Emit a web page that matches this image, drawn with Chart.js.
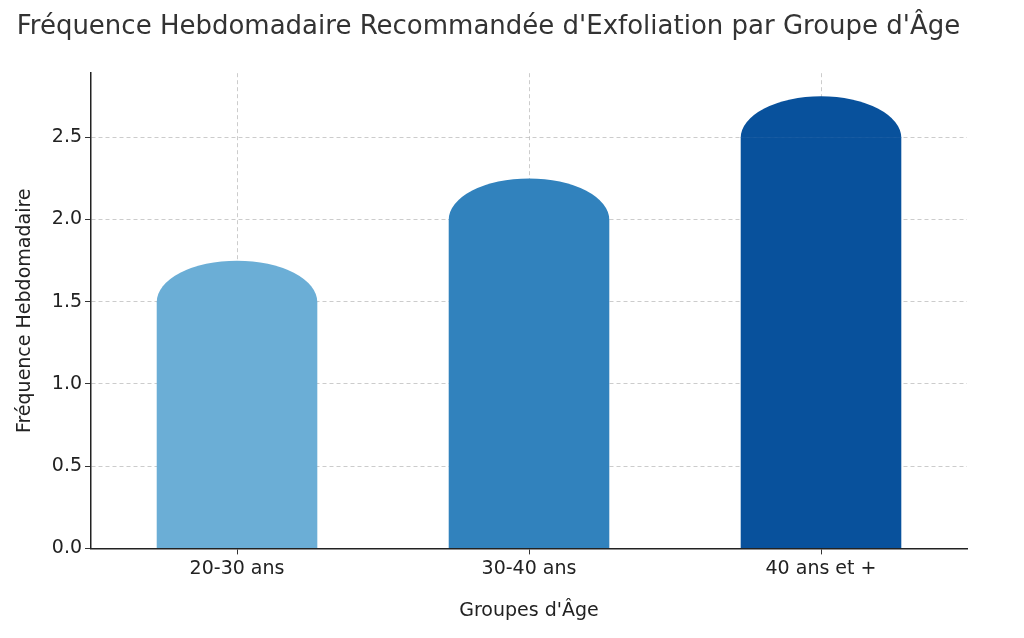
<!DOCTYPE html>
<html><head><meta charset="utf-8">
<script src="https://cdn.jsdelivr.net/npm/chart.js@4"></script>
<style>html,body{margin:0;background:#fff}#w{width:1024px;height:638px}</style>
</head><body><div id="w"><canvas id="c"></canvas></div>
<script>
const categories = ["20-30 ans", "30-40 ans", "40 ans et +"];
const frequencies = [1.5, 2.0, 2.5];
const capHeights = [0.25, 0.25, 0.25];
const colors = ["#6baed6", "#3182bd", "#08519c"];

const capPlugin = {
  id: 'caps',
  afterDatasetsDraw(chart) {
    const meta = chart.getDatasetMeta(0), y = chart.scales.y, ctx = chart.ctx;
    meta.data.forEach((bar, i) => {
      const top = bar.y, rx = bar.width / 2;
      const ry = top - y.getPixelForValue(frequencies[i] + capHeights[i]);
      ctx.save();
      ctx.fillStyle = colors[i];
      ctx.beginPath();
      ctx.ellipse(bar.x, top + 0.5, rx, ry + 0.5, 0, Math.PI, 2 * Math.PI);
      ctx.closePath();
      ctx.fill();
      ctx.restore();
    });
  }
};

const font = { family: 'DejaVu Sans', size: 19 };

new Chart(document.getElementById('c'), {
  type: 'bar',
  data: { labels: categories, datasets: [{ data: frequencies, backgroundColor: colors, barPercentage: 0.55, categoryPercentage: 1 }] },
  options: {
    responsive: true, maintainAspectRatio: false, animation: false,
    layout: { padding: { top: 8, right: 57, left: 10, bottom: 12 } },
    plugins: {
      legend: { display: false }, tooltip: { enabled: false },
      title: { display: true, text: "Fréquence Hebdomadaire Recommandée d'Exfoliation par Groupe d'Âge",
        color: '#333', font: { family: 'DejaVu Sans', size: 26, weight: 'normal' }, padding: { top: 4, bottom: 30 } }
    },
    scales: {
      x: {
        z: 1,
        grid: { offset: false, color: 'rgba(170,170,170,0.6)', tickLength: 6, tickColor: '#333' },
        border: { color: '#222', width: 1.5, dash: [4, 3] },
        ticks: { color: '#222', font },
        title: { display: true, text: "Groupes d'Âge", color: '#222', font, padding: { top: 16 } }
      },
      y: {
        z: 1,
        min: 0, max: 2.89,
        afterBuildTicks(s) { s.ticks = [0, 0.5, 1, 1.5, 2, 2.5].map(v => ({ value: v })); },
        grid: { color: 'rgba(170,170,170,0.6)', tickLength: 6, tickColor: '#333' },
        border: { color: '#222', width: 1.5, dash: [4, 3] },
        ticks: { color: '#222', font, callback: v => v.toFixed(1) },
        title: { display: true, text: 'Fréquence Hebdomadaire', color: '#222', font, padding: { bottom: 12 } }
      }
    }
  },
  plugins: [capPlugin]
});
</script></body></html>
